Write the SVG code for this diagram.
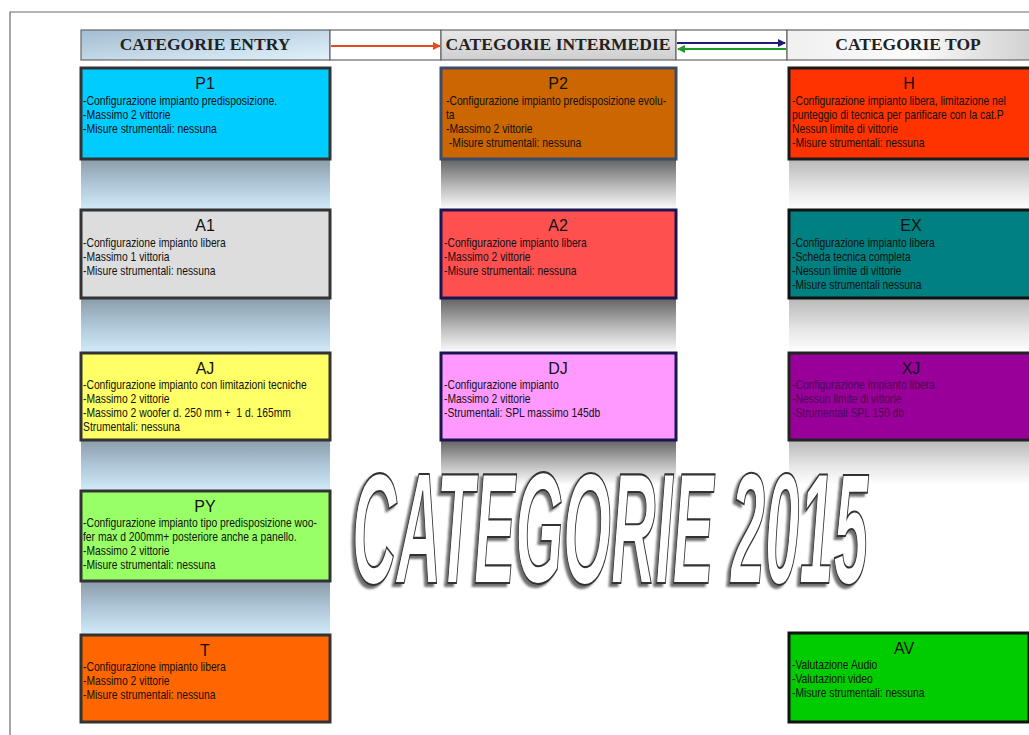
<svg xmlns="http://www.w3.org/2000/svg" width="1029" height="735" viewBox="0 0 1029 735">
<defs>
<style>
.hd{font-family:"Liberation Serif","Times New Roman",serif;font-weight:bold;font-size:17.5px;fill:#222;text-anchor:middle}
.ttl{font-family:"Liberation Sans",Arial,sans-serif;font-size:16px;fill:#111;text-anchor:middle}
.tx{font-family:"Liberation Sans",Arial,sans-serif;font-size:12px;fill:#111}
.box{stroke-width:3}
.hcell{stroke:#666;stroke-width:1.2}
.big{font-family:"Liberation Sans",Arial,sans-serif;font-weight:bold;font-style:italic;font-size:158px}
</style>
<filter id="sh" x="-5%" y="-10%" width="110%" height="130%">
<feGaussianBlur in="SourceAlpha" stdDeviation="1.2"/>
<feOffset dx="-3" dy="3" result="o"/>
<feFlood flood-color="#6f6f6f"/>
<feComposite in2="o" operator="in"/>
<feMerge><feMergeNode/><feMergeNode in="SourceGraphic"/></feMerge>
</filter>
<linearGradient id="gEntryH" x1="0" y1="0" x2="1" y2="1"><stop offset="0" stop-color="#a3bdd1"/><stop offset="1" stop-color="#e2f2fc"/></linearGradient>
<linearGradient id="gMidH" x1="0" y1="0" x2="0" y2="1"><stop offset="0" stop-color="#e8e8e8"/><stop offset="1" stop-color="#cfcfcf"/></linearGradient>
<linearGradient id="gTopH" x1="0" y1="0" x2="1" y2="0"><stop offset="0" stop-color="#f0f0f0"/><stop offset="0.5" stop-color="#fbfbfb"/><stop offset="1" stop-color="#cfcfcf"/></linearGradient>
<linearGradient id="gE" x1="0" y1="0" x2="0" y2="1"><stop offset="0" stop-color="#8b9ca9"/><stop offset="0.45" stop-color="#abc3d4"/><stop offset="1" stop-color="#d2ecfb"/></linearGradient>
<linearGradient id="gM" x1="0" y1="0" x2="0" y2="1"><stop offset="0" stop-color="#626262"/><stop offset="0.5" stop-color="#b5b5b5"/><stop offset="1" stop-color="#ffffff"/></linearGradient>
<linearGradient id="gT" x1="0" y1="0" x2="0" y2="1"><stop offset="0" stop-color="#b8b8b8"/><stop offset="0.6" stop-color="#e8e8e8"/><stop offset="1" stop-color="#ffffff"/></linearGradient>
<marker id="aR" markerWidth="8" markerHeight="8" refX="7" refY="4" orient="auto" markerUnits="userSpaceOnUse"><path d="M0,0 L8,4 L0,8 z" fill="#e84a1c"/></marker>
<marker id="aB" markerWidth="8" markerHeight="8" refX="7" refY="4" orient="auto" markerUnits="userSpaceOnUse"><path d="M0,0 L8,4 L0,8 z" fill="#1c1c78"/></marker>
<marker id="aG" markerWidth="8" markerHeight="8" refX="7" refY="4" orient="auto" markerUnits="userSpaceOnUse"><path d="M0,0 L8,4 L0,8 z" fill="#1f9a2a"/></marker>
</defs>
<rect width="1029" height="735" fill="#ffffff"/>
<path d="M10,735 L10,12 L1029,12" fill="none" stroke="#6a6a6a" stroke-width="1.2"/>

<g id="strips">
<rect x="81" y="159" width="249" height="51" fill="url(#gE)"/>
<rect x="81" y="298" width="249" height="55" fill="url(#gE)"/>
<rect x="81" y="440" width="249" height="51" fill="url(#gE)"/>
<rect x="81" y="581" width="249" height="54" fill="url(#gE)"/>
<rect x="441" y="159" width="235" height="51" fill="url(#gM)"/>
<rect x="441" y="298" width="235" height="55" fill="url(#gM)"/>
<rect x="441" y="440" width="235" height="45" fill="url(#gM)"/>
<rect x="789" y="159" width="240" height="51" fill="url(#gT)"/>
<rect x="789" y="298" width="240" height="55" fill="url(#gT)"/>
<rect x="789" y="440" width="240" height="45" fill="url(#gT)"/>
</g>

<g id="header">
<rect class="hcell" x="81" y="30" width="249" height="30" fill="url(#gEntryH)"/>
<rect class="hcell" x="330" y="30" width="111" height="30" fill="#ffffff"/>
<rect class="hcell" x="441" y="30" width="235" height="30" fill="url(#gMidH)"/>
<rect class="hcell" x="676" y="30" width="111" height="30" fill="#ffffff"/>
<rect class="hcell" x="787" y="30" width="250" height="30" fill="url(#gTopH)"/>
<text class="hd" x="205" y="50">CATEGORIE ENTRY</text>
<text class="hd" x="558" y="50">CATEGORIE INTERMEDIE</text>
<text class="hd" x="908" y="50">CATEGORIE TOP</text>
</g>

<g id="connectors">
<line x1="331" y1="46" x2="440" y2="46" stroke="#e84a1c" stroke-width="2" marker-end="url(#aR)"/>
<line x1="677" y1="43" x2="785" y2="43" stroke="#1c1c78" stroke-width="2.2" marker-end="url(#aB)"/>
<line x1="786" y1="49" x2="678" y2="49" stroke="#1f9a2a" stroke-width="2.2" marker-end="url(#aG)"/>
</g>

<g id="P1">
<rect class="box" x="81" y="68" width="249" height="91" fill="#00ccff" stroke="#333"/>
<text class="ttl" x="205" y="89">P1</text>
<g transform="translate(83,0) scale(0.87,1)">
<text class="tx" x="0" y="105">-Configurazione impianto predisposizione.</text>
<text class="tx" x="0" y="119">-Massimo 2 vittorie</text>
<text class="tx" x="0" y="133">-Misure strumentali: nessuna</text>
</g>
</g>

<g id="P2">
<rect class="box" x="441" y="68" width="235" height="91" fill="#cc6600" stroke="#3c4c68"/>
<text class="ttl" x="558" y="89">P2</text>
<g transform="translate(446,0) scale(0.86,1)">
<text class="tx" x="0" y="105">-Configurazione impianto predisposizione evolu-</text>
<text class="tx" x="0" y="119">ta</text>
<text class="tx" x="0" y="133">-Massimo 2 vittorie</text>
<text class="tx" x="0" y="147" xml:space="preserve"> -Misure strumentali: nessuna</text>
</g>
</g>

<g id="H">
<rect class="box" x="789" y="68" width="242" height="91" fill="#ff3300" stroke="#1a1a1a"/>
<text class="ttl" x="909" y="89">H</text>
<g transform="translate(792,0) scale(0.86,1)">
<text class="tx" x="0" y="105">-Configurazione impianto libera, limitazione nel</text>
<text class="tx" x="0" y="119">punteggio di tecnica per parificare con la cat.P</text>
<text class="tx" x="0" y="133">Nessun limite di vittorie</text>
<text class="tx" x="0" y="147">-Misure strumentali: nessuna</text>
</g>
</g>

<g id="A1">
<rect class="box" x="81" y="210" width="249" height="88" fill="#dddddd" stroke="#333"/>
<text class="ttl" x="205" y="231">A1</text>
<g transform="translate(83,0) scale(0.86,1)">
<text class="tx" x="0" y="247">-Configurazione impianto libera</text>
<text class="tx" x="0" y="261">-Massimo 1 vittoria</text>
<text class="tx" x="0" y="275">-Misure strumentali: nessuna</text>
</g>
</g>

<g id="A2">
<rect class="box" x="441" y="210" width="235" height="88" fill="#ff5050" stroke="#1a1450"/>
<text class="ttl" x="558" y="231">A2</text>
<g transform="translate(444,0) scale(0.86,1)">
<text class="tx" x="0" y="247">-Configurazione impianto libera</text>
<text class="tx" x="0" y="261">-Massimo 2 vittorie</text>
<text class="tx" x="0" y="275">-Misure strumentali: nessuna</text>
</g>
</g>

<g id="EX">
<rect class="box" x="789" y="210" width="242" height="88" fill="#008080" stroke="#111"/>
<text class="ttl" x="911" y="231">EX</text>
<g transform="translate(792,0) scale(0.86,1)">
<text class="tx" x="0" y="247">-Configurazione impianto libera</text>
<text class="tx" x="0" y="261">-Scheda tecnica completa</text>
<text class="tx" x="0" y="275">-Nessun limite di vittorie</text>
<text class="tx" x="0" y="289">-Misure strumentali nessuna</text>
</g>
</g>

<g id="AJ">
<rect class="box" x="81" y="353" width="249" height="87" fill="#ffff66" stroke="#333"/>
<text class="ttl" x="205" y="374">AJ</text>
<g transform="translate(83,0) scale(0.86,1)">
<text class="tx" x="0" y="389">-Configurazione impianto con limitazioni tecniche</text>
<text class="tx" x="0" y="403">-Massimo 2 vittorie</text>
<text class="tx" x="0" y="417" xml:space="preserve">-Massimo 2 woofer d. 250 mm +  1 d. 165mm</text>
<text class="tx" x="0" y="431">Strumentali: nessuna</text>
</g>
</g>

<g id="DJ">
<rect class="box" x="441" y="353" width="235" height="87" fill="#ff99ff" stroke="#1a1450"/>
<text class="ttl" x="558" y="374">DJ</text>
<g transform="translate(444,0) scale(0.86,1)">
<text class="tx" x="0" y="389">-Configurazione impianto</text>
<text class="tx" x="0" y="403">-Massimo 2 vittorie</text>
<text class="tx" x="0" y="417">-Strumentali: SPL massimo 145db</text>
</g>
</g>

<g id="XJ">
<rect class="box" x="789" y="353" width="242" height="87" fill="#990099" stroke="#222"/>
<text class="ttl" x="911" y="374">XJ</text>
<g transform="translate(792,0) scale(0.86,1)">
<text class="tx" x="0" y="389" style="fill:#4a0a55">-Configurazione impianto libera</text>
<text class="tx" x="0" y="403" style="fill:#4a0a55">-Nessun limite di vittorie</text>
<text class="tx" x="0" y="417" style="fill:#4a0a55">-Strumentali SPL 150 db</text>
</g>
</g>

<g id="PY">
<rect class="box" x="81" y="491" width="249" height="90" fill="#99ff66" stroke="#333"/>
<text class="ttl" x="205" y="512">PY</text>
<g transform="translate(83,0) scale(0.86,1)">
<text class="tx" x="0" y="527">-Configurazione impianto tipo predisposizione woo-</text>
<text class="tx" x="0" y="541">fer max d 200mm+ posteriore anche a panello.</text>
<text class="tx" x="0" y="555">-Massimo 2 vittorie</text>
<text class="tx" x="0" y="569">-Misure strumentali: nessuna</text>
</g>
</g>

<g id="T">
<rect class="box" x="81" y="635" width="249" height="87" fill="#ff6600" stroke="#333"/>
<text class="ttl" x="205" y="656">T</text>
<g transform="translate(83,0) scale(0.86,1)">
<text class="tx" x="0" y="671">-Configurazione impianto libera</text>
<text class="tx" x="0" y="685">-Massimo 2 vittorie</text>
<text class="tx" x="0" y="699">-Misure strumentali: nessuna</text>
</g>
</g>

<g id="AV">
<rect class="box" x="789" y="633" width="240" height="89" fill="#00cc00" stroke="#111"/>
<text class="ttl" x="904" y="654">AV</text>
<g transform="translate(792,0) scale(0.86,1)">
<text class="tx" x="0" y="669">-Valutazione Audio</text>
<text class="tx" x="0" y="683">-Valutazioni video</text>
<text class="tx" x="0" y="697">-Misure strumentali: nessuna</text>
</g>
</g>

<g id="title" filter="url(#sh)">
<text class="big" transform="translate(352,583) scale(0.39,1)" x="0" y="0" fill="#ffffff" stroke="#333" stroke-width="1.6" vector-effect="non-scaling-stroke">CATEGORIE 2015</text>
</g>
</svg>
